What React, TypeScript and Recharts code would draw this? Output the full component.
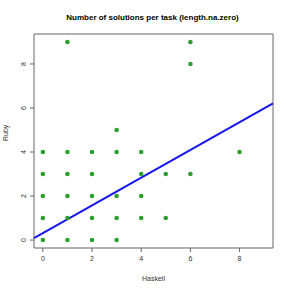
import React from 'react';
import {
  ScatterChart,
  Scatter,
  XAxis,
  YAxis,
  ReferenceArea,
  ReferenceLine,
  Label,
} from 'recharts';

// one entry per (haskell, ruby) count pair seen in the plot
const haskell = [
  0, 1, 2, 3,
  0, 1, 2, 3, 4, 5,
  0, 1, 2, 3, 4,
  0, 1, 2, 4, 5, 6,
  0, 1, 2, 3, 4, 8,
  3,
  6,
  1, 6,
];
const ruby = [
  0, 0, 0, 0,
  1, 1, 1, 1, 1, 1,
  2, 2, 2, 2, 2,
  3, 3, 3, 3, 3, 3,
  4, 4, 4, 4, 4, 4,
  5,
  8,
  9, 9,
];

const xTicks = [0, 2, 4, 6, 8];
const yTicks = [0, 2, 4, 6, 8];

// fitted line (abline)
const intercept = 0.31;
const slope = 0.63;

const xDomain: [number, number] = [-0.36, 9.36];
const yDomain: [number, number] = [-0.36, 9.36];

const points = haskell.map((h, i) => ({ haskell: h, ruby: ruby[i] }));

const FONT = 'Liberation Sans, Arial, sans-serif';

const YTick = (props: any) => {
  const { x, y, payload } = props;
  return (
    <text
      x={x}
      y={y}
      transform={`rotate(-90 ${x} ${y})`}
      textAnchor="middle"
      fontSize={7}
      fontFamily={FONT}
      fill="#333"
    >
      {payload.value}
    </text>
  );
};

export default function App() {
  return (
    <div style={{ position: 'absolute', left: 0, top: 0, width: 291, height: 291, background: '#fff' }}>
      <div
        style={{
          position: 'absolute',
          top: 13,
          left: 0,
          width: 305,
          textAlign: 'center',
          fontFamily: FONT,
          fontWeight: 'bold',
          fontSize: 8,
          color: '#000',
        }}
      >
        Number of solutions per task (length.na.zero)
      </div>
      <ScatterChart width={291} height={291} margin={{ top: 34, right: 18, bottom: 0, left: 0 }}>
        <XAxis
          type="number"
          dataKey="haskell"
          domain={xDomain}
          ticks={xTicks}
          axisLine={false}
          tickSize={4}
          tickMargin={4}
          tickLine={{ stroke: '#666' }}
          tick={{ fontSize: 7, fontFamily: FONT, fill: '#333' }}
          height={43}
          allowDataOverflow
        >
          <Label value="Haskell" position="insideBottom" offset={10} fontSize={7} fontFamily={FONT} fill="#333" />
        </XAxis>
        <YAxis
          type="number"
          dataKey="ruby"
          domain={yDomain}
          ticks={yTicks}
          axisLine={false}
          tickSize={4}
          tickMargin={4}
          tickLine={{ stroke: '#666' }}
          tick={<YTick />}
          width={34}
          allowDataOverflow
        >
          <Label value="Ruby" angle={-90} position="insideLeft" offset={6} fontSize={7} fontFamily={FONT} fill="#333" />
        </YAxis>
        <ReferenceArea
          x1={xDomain[0]}
          x2={xDomain[1]}
          y1={yDomain[0]}
          y2={yDomain[1]}
          fill="none"
          stroke="#666"
          strokeWidth={1}
        />
        <Scatter
          data={points}
          fill="#2ca02c"
          isAnimationActive={false}
          shape={(p: any) => <circle cx={p.cx} cy={p.cy} r={2.3} fill="#2ca02c" />}
        />
        <ReferenceLine
          segment={[
            { x: xDomain[0], y: intercept + slope * xDomain[0] },
            { x: xDomain[1], y: intercept + slope * xDomain[1] },
          ]}
          stroke="#1515f0"
          strokeWidth={2}
          ifOverflow="visible"
        />
      </ScatterChart>
    </div>
  );
}
